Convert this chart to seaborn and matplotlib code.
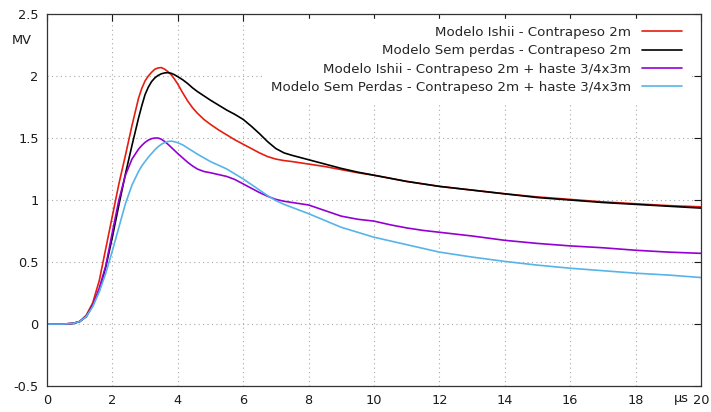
import matplotlib
matplotlib.use("Agg")
import matplotlib.pyplot as plt
from matplotlib.ticker import FormatStrFormatter, MultipleLocator
import seaborn as sns
import pandas as pd

# time axis (us)
t = [0, 0.5, 0.8, 1.0, 1.2, 1.4, 1.6, 1.8, 2.0, 2.2, 2.4, 2.6, 2.8, 2.9, 3.0, 3.1,
     3.2, 3.3, 3.4, 3.5, 3.6, 3.7, 3.8, 3.9, 4.0, 4.15, 4.3, 4.45, 4.6, 4.8, 5.0,
     5.25, 5.5, 5.75, 6.0, 6.25, 6.5, 6.75, 7.0, 7.25, 7.5, 8, 8.5, 9, 9.5, 10,
     10.5, 11, 11.5, 12, 13, 14, 15, 16, 17, 18, 19, 20]

# voltage (MV)
ishii_2m = [0, 0, 0.005, 0.02, 0.07, 0.17, 0.35, 0.61, 0.87, 1.13, 1.36, 1.60, 1.82,
            1.90, 1.96, 2.0, 2.03, 2.055, 2.065, 2.068, 2.055, 2.035, 2.01, 1.975,
            1.935, 1.865, 1.80, 1.745, 1.70, 1.65, 1.61, 1.565, 1.525, 1.485, 1.45,
            1.415, 1.38, 1.35, 1.33, 1.318, 1.31, 1.29, 1.27, 1.245, 1.22, 1.20,
            1.175, 1.15, 1.13, 1.11, 1.08, 1.05, 1.025, 1.005, 0.985, 0.97, 0.955,
            0.945]
sem_perdas_2m = [0, 0, 0.005, 0.02, 0.06, 0.15, 0.27, 0.46, 0.70, 0.96, 1.21, 1.44,
                 1.66, 1.76, 1.85, 1.91, 1.955, 1.985, 2.005, 2.018, 2.025, 2.027,
                 2.022, 2.01, 1.995, 1.97, 1.94, 1.905, 1.875, 1.84, 1.805, 1.765,
                 1.725, 1.69, 1.65, 1.595, 1.535, 1.47, 1.415, 1.38, 1.36, 1.325,
                 1.29, 1.255, 1.225, 1.20, 1.175, 1.15, 1.13, 1.11, 1.08, 1.05, 1.02,
                 1.0, 0.98, 0.965, 0.95, 0.935]
ishii_haste = [0, 0, 0.005, 0.02, 0.06, 0.15, 0.29, 0.47, 0.74, 1.0, 1.2, 1.33, 1.41,
               1.44, 1.465, 1.483, 1.495, 1.50, 1.50, 1.49, 1.472, 1.45, 1.425,
               1.40, 1.375, 1.34, 1.305, 1.275, 1.25, 1.23, 1.22, 1.205, 1.19,
               1.165, 1.13, 1.095, 1.06, 1.03, 1.005, 0.99, 0.98, 0.96, 0.915, 0.87,
               0.845, 0.83, 0.80, 0.775, 0.755, 0.74, 0.71, 0.675, 0.65, 0.63,
               0.615, 0.595, 0.58, 0.57]
sem_perdas_haste = [0, 0, 0.005, 0.02, 0.06, 0.14, 0.26, 0.41, 0.59, 0.78, 0.97,
                    1.12, 1.23, 1.275, 1.31, 1.345, 1.375, 1.405, 1.43, 1.45, 1.463,
                    1.472, 1.475, 1.47, 1.462, 1.445, 1.42, 1.395, 1.37, 1.34, 1.31,
                    1.28, 1.25, 1.21, 1.17, 1.125, 1.08, 1.035, 0.995, 0.965, 0.94,
                    0.89, 0.835, 0.78, 0.74, 0.70, 0.67, 0.64, 0.61, 0.58, 0.54,
                    0.505, 0.475, 0.45, 0.43, 0.41, 0.395, 0.375]

labels = ["Modelo Ishii - Contrapeso 2m",
          "Modelo Sem perdas - Contrapeso 2m",
          "Modelo Ishii - Contrapeso 2m + haste 3/4x3m",
          "Modelo Sem Perdas - Contrapeso 2m + haste 3/4x3m"]
colors = ["#e51e10", "#000000", "#9400d3", "#56b4e9"]

frames = []
for lab, vals in zip(labels, [ishii_2m, sem_perdas_2m, ishii_haste, sem_perdas_haste]):
    frames.append(pd.DataFrame({"t": t, "v": vals, "serie": lab}))
df = pd.concat(frames, ignore_index=True)

sns.set_theme(style="white")
plt.rcParams["font.family"] = ["DejaVu Sans"]

fig = plt.figure(figsize=(7.11, 4.12), dpi=100)
ax = fig.add_axes([0.066, 0.063, 0.92, 0.903])

sns.lineplot(data=df, x="t", y="v", hue="serie", hue_order=labels,
             palette=colors, linewidth=1.2, ax=ax, sort=False)
for ln in ax.get_lines():
    ln.set_solid_joinstyle("round")

ax.set_xlim(0, 20)
ax.set_ylim(-0.5, 2.5)
ax.xaxis.set_major_locator(MultipleLocator(2))
ax.yaxis.set_major_locator(MultipleLocator(0.5))
ax.yaxis.set_major_formatter(FormatStrFormatter("%g"))
ax.set_xlabel("")
ax.set_ylabel("")

ax.grid(True, linestyle=(0, (1, 3)), color="#a8a8a8", linewidth=0.8)
ax.tick_params(direction="in", length=5, width=0.8, top=True, right=True,
               labelsize=9.3, colors="#1a1a1a", pad=6)
for s in ax.spines.values():
    s.set_color("#333333")
    s.set_linewidth(0.9)

# unit labels
ax.text(-0.038, 0.93, "MV", transform=ax.transAxes, fontsize=9.3,
        ha="center", va="center", color="#1a1a1a")
ax.annotate("μs", xy=(19.4, -0.5), xytext=(0, -4.5), textcoords="offset points",
            fontsize=9.3, ha="center", va="top", color="#1a1a1a")

h, l = ax.get_legend_handles_labels()
leg = ax.legend(h, l, loc="upper right", bbox_to_anchor=(0.981, 0.986),
                markerfirst=False, frameon=True, fontsize=9.6, handlelength=3.0,
                handletextpad=0.8, labelspacing=0.4, borderpad=0.5,
                borderaxespad=0)
leg.get_frame().set_facecolor("white")
leg.get_frame().set_edgecolor("white")
leg.get_frame().set_alpha(1)
leg.get_frame().set_boxstyle("square", pad=0)

fig.savefig("out.png", dpi=100)
